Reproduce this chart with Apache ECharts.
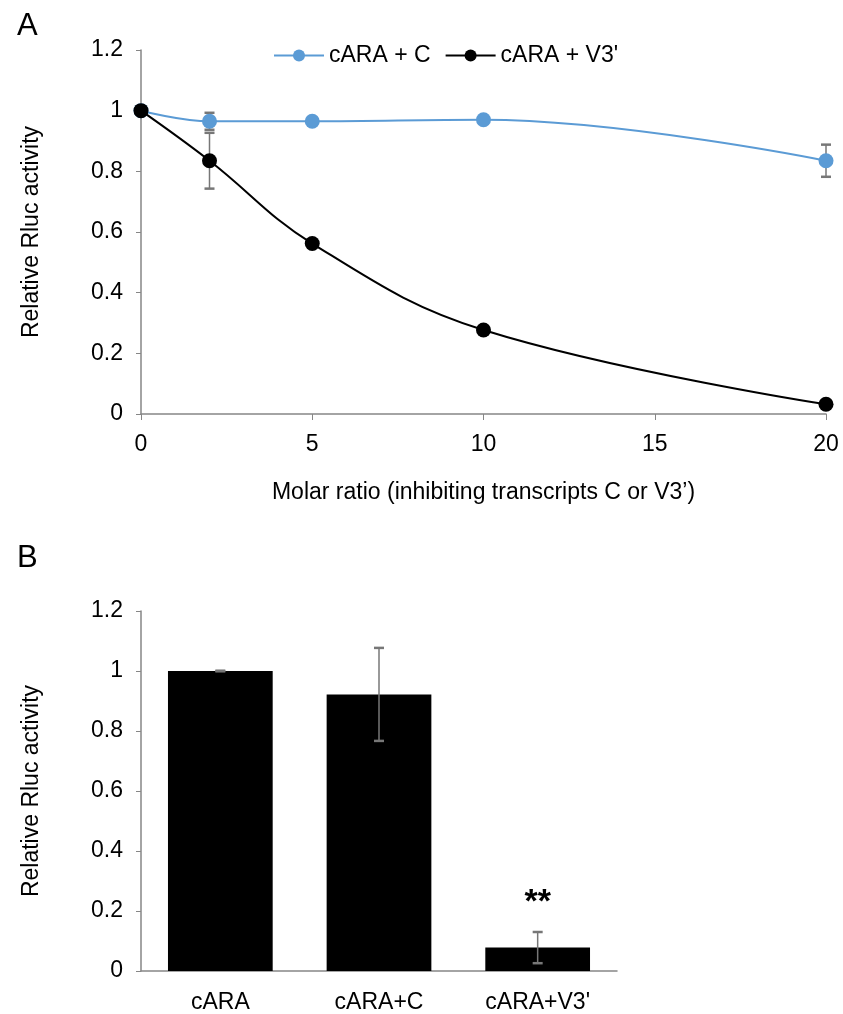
<!DOCTYPE html>
<html>
<head>
<meta charset="utf-8">
<script src="https://cdn.jsdelivr.net/npm/echarts@6/dist/echarts.min.js"></script>
<style>
  html, body { margin: 0; padding: 0; background: #fff; }
  #chart { width: 843px; height: 1014px; }
</style>
</head>
<body>
<div id="chart"></div>
<script>
// Panel A: dose response
const molarRatio = [0, 2, 5, 10, 20];
const ivC = [1, 0.965, 0.965, 0.97, 0.835];
const ivV3 = [1, 0.835, 0.562, 0.277, 0.032];
const errC = [0, 0.028, 0.005, 0.005, 0.053];
const errV3 = [0, 0.092, 0.01, 0.005, 0.005];

// Panel B: bar chart
const barCats = ["cARA", "cARA+C", "cARA+V3'"];
const barVals = [1.0, 0.922, 0.078];
const barErr = [0.001, 0.155, 0.052];
const barSig = ["", "", "**"];

const FONT = "Liberation Sans, Arial, sans-serif";
const FS = 23;
const AXIS_GRAY = "#868686";
const ERR_GRAY = "#777777";

function errData(xs, ys, es) {
  return xs.map((x, i) => [x, ys[i] - es[i], ys[i] + es[i], i]);
}

function errRender(params, api) {
  const x = api.value(0);
  const lo = api.value(1);
  const hi = api.value(2);
  const top = api.coord([x, hi]);
  const bot = api.coord([x, lo]);
  const w = 5;
  const style = { stroke: ERR_GRAY, lineWidth: 1.5 };
  const capStyle = { stroke: ERR_GRAY, lineWidth: 2.5 };
  const children = [
    { type: "line", shape: { x1: top[0], y1: top[1], x2: bot[0], y2: bot[1] }, style },
    { type: "line", shape: { x1: top[0] - w, y1: top[1], x2: top[0] + w, y2: top[1] }, style: capStyle },
    { type: "line", shape: { x1: bot[0] - w, y1: bot[1], x2: bot[0] + w, y2: bot[1] }, style: capStyle },
  ];
  return { type: "group", children };
}

// error bars plus significance stars for panel B
function sigRender(params, api) {
  const idx = api.value(0);
  const hi = api.value(2);
  const p = api.coord([idx, hi]);
  const txt = barSig[idx];
  const g = errRender(params, api);
  if (txt) {
    g.children.push({
      type: "text",
      x: p[0],
      y: p[1] - 12,
      style: { text: txt, fill: "#000", font: "bold 34px " + FONT, align: "center", verticalAlign: "bottom" },
    });
  }
  return g;
}

const chart = echarts.init(document.getElementById("chart"));

const yAxisCommon = {
  type: "value",
  min: 0,
  max: 1.2,
  interval: 0.2,
  axisLine: { show: true, lineStyle: { color: AXIS_GRAY, width: 1.5 } },
  axisTick: { show: true, length: 5, lineStyle: { color: AXIS_GRAY } },
  axisLabel: { color: "#000", fontSize: FS, fontFamily: FONT, margin: 18 },
  splitLine: { show: false },
  name: "Relative Rluc activity",
  nameLocation: "middle",
  nameGap: 98,
  nameTextStyle: { color: "#000", fontSize: FS, fontFamily: FONT },
};

chart.setOption({
  animation: false,
  title: [
    { text: "A", left: 12, top: 6, textStyle: { fontSize: 31, fontWeight: "normal", fontFamily: FONT, color: "#000" } },
    { text: "B", left: 12, top: 538, textStyle: { fontSize: 31, fontWeight: "normal", fontFamily: FONT, color: "#000" } },
  ],
  legend: {
    data: ["cARA + C", "cARA + V3'"],
    left: 268,
    top: 39,
    itemWidth: 50,
    itemHeight: 15,
    itemGap: 14,
    textStyle: { fontSize: FS, fontFamily: FONT, color: "#000" },
  },
  grid: [
    { left: 141, top: 50, width: 685, height: 364 },
    { left: 141, top: 611, width: 476, height: 362 },
  ],
  xAxis: [
    {
      gridIndex: 0,
      type: "value",
      min: 0,
      max: 20,
      interval: 5,
      axisLine: { onZero: false, lineStyle: { color: AXIS_GRAY, width: 1.5 } },
      axisTick: { show: true, length: 6, lineStyle: { color: AXIS_GRAY } },
      axisLabel: { color: "#000", fontSize: FS, fontFamily: FONT, margin: 19 },
      splitLine: { show: false },
      name: "Molar ratio (inhibiting transcripts C or V3’)",
      nameLocation: "middle",
      nameGap: 67,
      nameTextStyle: { color: "#000", fontSize: FS, fontFamily: FONT },
    },
    {
      gridIndex: 1,
      type: "category",
      data: barCats,
      axisLine: { lineStyle: { color: AXIS_GRAY, width: 1.5 } },
      axisTick: { show: false },
      axisLabel: { color: "#000", fontSize: FS, fontFamily: FONT, margin: 20 },
    },
  ],
  yAxis: [
    Object.assign({ gridIndex: 0 }, yAxisCommon),
    Object.assign({ gridIndex: 1 }, yAxisCommon),
  ],
  series: [
    {
      type: "custom",
      name: "errC",
      xAxisIndex: 0,
      yAxisIndex: 0,
      renderItem: errRender,
      data: errData(molarRatio, ivC, errC),
      z: 1,
      silent: true,
    },
    {
      type: "custom",
      name: "errV3",
      xAxisIndex: 0,
      yAxisIndex: 0,
      renderItem: errRender,
      data: errData(molarRatio, ivV3, errV3),
      z: 1,
      silent: true,
    },
    {
      name: "cARA + C",
      type: "line",
      xAxisIndex: 0,
      yAxisIndex: 0,
      data: molarRatio.map((x, i) => [x, ivC[i]]),
      smooth: 0.4,
      symbol: "circle",
      symbolSize: 15,
      lineStyle: { color: "#5b9bd5", width: 2 },
      itemStyle: { color: "#5b9bd5" },
      z: 3,
    },
    {
      name: "cARA + V3'",
      type: "line",
      xAxisIndex: 0,
      yAxisIndex: 0,
      data: molarRatio.map((x, i) => [x, ivV3[i]]),
      smooth: 0.4,
      symbol: "circle",
      symbolSize: 15,
      lineStyle: { color: "#000", width: 2 },
      itemStyle: { color: "#000" },
      z: 4,
    },
    {
      type: "bar",
      xAxisIndex: 1,
      yAxisIndex: 1,
      data: barVals,
      barCategoryGap: "34%",
      itemStyle: { color: "#000" },
      z: 2,
    },
    {
      type: "custom",
      xAxisIndex: 1,
      yAxisIndex: 1,
      renderItem: sigRender,
      data: barCats.map((c, i) => [i, barVals[i] - barErr[i], barVals[i] + barErr[i]]),
      z: 5,
      silent: true,
    },
  ],
});
</script>
</body>
</html>
